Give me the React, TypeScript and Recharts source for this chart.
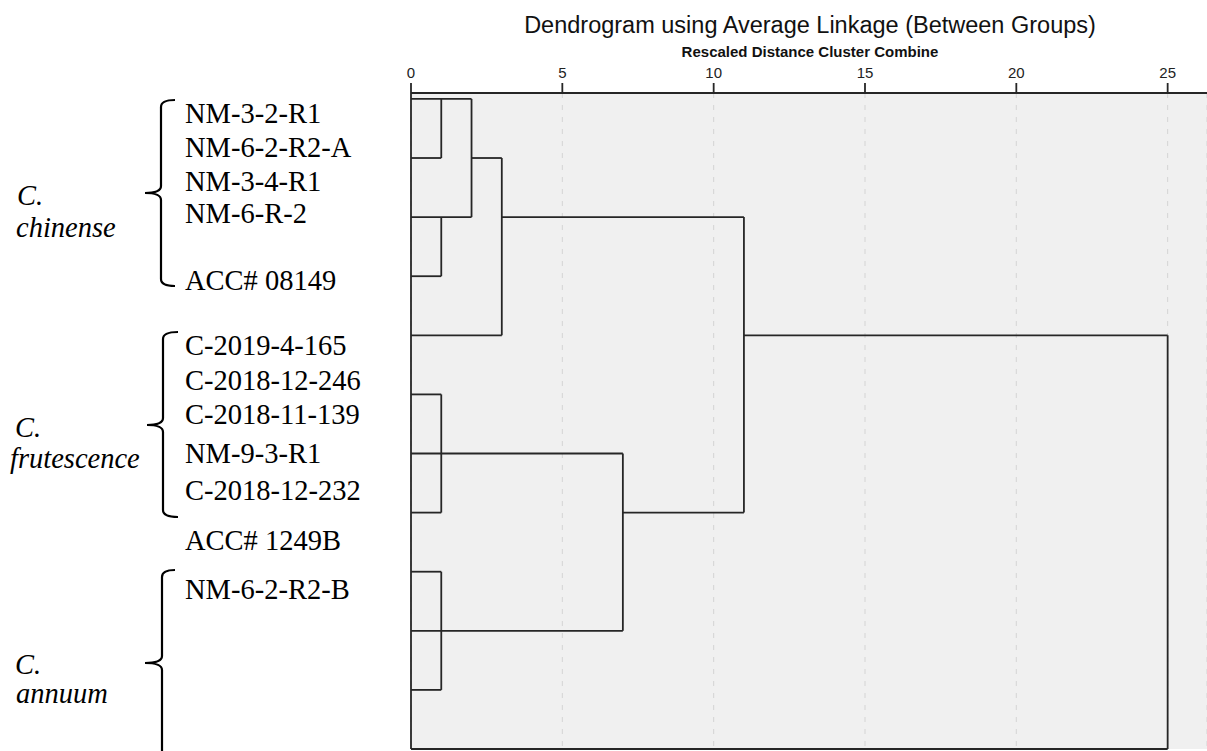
import { CartesianGrid, ComposedChart, Line, ReferenceLine, XAxis, YAxis } from "recharts";

const distanceTicks = [0, 5, 10, 15, 20, 25];

// horizontal branches: row, start and end on the rescaled distance scale
const branchRow = [0, 1, 1, 2, 2, 3, 4, 4, 5, 6, 7, 7, 8, 9, 10, 11];
const branchFrom = [0, 0, 2, 0, 3, 0, 0, 11, 0, 0, 0, 7, 0, 0, 0, 0];
const branchTo = [2, 1, 3, 2, 11, 1, 3, 25, 1, 7, 1, 11, 1, 7, 1, 25];

// vertical joins: distance at which clusters combine, and the rows joined
const joinDistance = [1, 1, 2, 3, 1, 1, 7, 11, 25];
const joinTop = [0, 2, 0, 1, 5, 8, 6, 2, 4];
const joinBottom = [1, 3, 2, 4, 7, 10, 9, 7, 11];

const caseLabels = [
  "NM-3-2-R1",
  "NM-6-2-R2-A",
  "NM-3-4-R1",
  "NM-6-R-2",
  "ACC# 08149",
  "C-2019-4-165",
  "C-2018-12-246",
  "C-2018-11-139",
  "NM-9-3-R1",
  "C-2018-12-232",
  "ACC# 1249B",
  "NM-6-2-R2-B",
];
const speciesNames = ["chinense", "frutescence", "annuum"];

const TITLE = "Dendrogram using Average Linkage (Between Groups)";
const SUBTITLE = "Rescaled Distance Cluster Combine";

const W = 1207;
const H = 751;
const LINE = "#262626";
const SERIF = "'Liberation Serif', 'Times New Roman', serif";
const SANS = "'Liberation Sans', Arial, sans-serif";

// layout of the pasted-in label column
const labelBaseline = [123, 157, 191, 223, 290, 355, 390, 424, 463, 500, 550, 599];
const speciesBaseline = [
  [205, 237],
  [437, 468],
  [674, 703],
];
const braces = [
  { x: 161, top: 100, tip: 193, bottom: 286, hook: 175, tipX: 145 },
  { x: 163, top: 332, tip: 425, bottom: 517, hook: 178, tipX: 147 },
  { x: 162, top: 570, tip: 663, bottom: 770, hook: 175, tipX: 145 },
];

type Seg = { key: string; data: { d: number; row: number }[] };

function buildSegments(): Seg[] {
  const segs: Seg[] = [];
  branchRow.forEach((row, i) => {
    segs.push({
      key: `h${i}`,
      data: [
        { d: branchFrom[i], row },
        { d: branchTo[i], row },
      ],
    });
  });
  joinDistance.forEach((d, i) => {
    segs.push({
      key: `v${i}`,
      data: [
        { d, row: joinTop[i] },
        { d, row: joinBottom[i] },
      ],
    });
  });
  return segs;
}

function bracePath(b: (typeof braces)[number]) {
  const r = 7;
  return [
    `M ${b.hook} ${b.top}`,
    `Q ${b.x} ${b.top} ${b.x} ${b.top + r}`,
    `L ${b.x} ${b.tip - r}`,
    `Q ${b.x} ${b.tip} ${b.tipX} ${b.tip}`,
    `Q ${b.x} ${b.tip} ${b.x} ${b.tip + r}`,
    `L ${b.x} ${b.bottom - r}`,
    `Q ${b.x} ${b.bottom} ${b.hook} ${b.bottom}`,
  ].join(" ");
}

function Overlay() {
  return (
    <svg
      width={W}
      height={H}
      style={{ position: "absolute", left: 0, top: 0, pointerEvents: "none" }}
    >
      <text x={810} y={33} textAnchor="middle" fontFamily={SANS} fontSize={23.5} fill="#111">
        {TITLE}
      </text>
      <text x={810} y={57} textAnchor="middle" fontFamily={SANS} fontSize={15} fontWeight="bold" fill="#111">
        {SUBTITLE}
      </text>
      {caseLabels.map((label, i) => (
        <text key={label} x={185} y={labelBaseline[i]} fontFamily={SERIF} fontSize={28.5} fill="#000">
          {label}
        </text>
      ))}
      {speciesNames.map((name, i) => (
        <g key={name} fontFamily={SERIF} fontStyle="italic" fontSize={28.5} fill="#000">
          <text x={i === 0 ? 17 : 15} y={speciesBaseline[i][0]}>
            C.
          </text>
          <text x={i === 1 ? 10 : 16} y={speciesBaseline[i][1]}>
            {name}
          </text>
        </g>
      ))}
      {braces.map((b, i) => (
        <path key={i} d={bracePath(b)} fill="none" stroke="#000" strokeWidth={2.2} />
      ))}
    </svg>
  );
}

export default function App() {
  const segments = buildSegments();
  return (
    <div style={{ position: "absolute", left: 0, top: 0, width: W, height: H, background: "#fff" }}>
      <ComposedChart width={W} height={H} margin={{ top: 63, right: 0, bottom: 2, left: 411 }}>
        <CartesianGrid
          horizontal={false}
          strokeDasharray="5 7"
          stroke="#d4d4d4"
          fill="#f0f0f0"
        />
        <XAxis
          dataKey="d"
          type="number"
          orientation="top"
          domain={[0, 26.3]}
          ticks={distanceTicks}
          height={30}
          tickSize={10}
          tickMargin={5}
          axisLine={{ stroke: LINE, strokeWidth: 1.8 }}
          tickLine={{ stroke: LINE, strokeWidth: 1.8 }}
          tick={{ fill: "#222", fontSize: 15, fontFamily: SANS }}
        />
        <YAxis type="number" domain={[-0.1, 11]} reversed hide />
        <ReferenceLine x={0} stroke={LINE} strokeWidth={1.8} />
        {segments.map((s) => (
          <Line
            key={s.key}
            data={s.data}
            dataKey="row"
            type="linear"
            stroke={LINE}
            strokeWidth={1.8}
            dot={false}
            activeDot={false}
            isAnimationActive={false}
          />
        ))}
      </ComposedChart>
      <Overlay />
    </div>
  );
}
